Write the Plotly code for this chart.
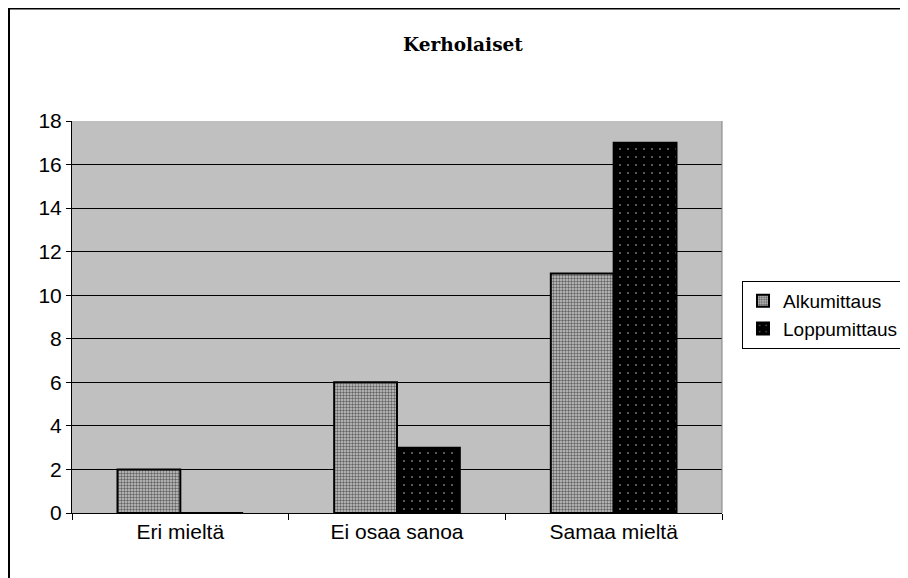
import plotly.graph_objects as go

categories = ["Eri mieltä", "Ei osaa sanoa", "Samaa mieltä"]
alku = [2, 6, 11]
loppu = [0, 3, 17]
series_names = ["Alkumittaus", "Loppumittaus"]

OFF = 8  # page body margin in the browser
W, H = 908, 578
L, R, T, B = 72 - OFF, 722 - OFF, 121 - OFF, 513 - OFF
pw, ph = R - L, B - T

def px_x(p):
    return (p - OFF - L) / pw

def px_y(p):
    return (B - (p - OFF)) / ph

fig = go.Figure()
fig.add_trace(go.Bar(
    x=categories, y=alku, name=series_names[0],
    marker=dict(color="#b0b0b0", line=dict(color="black", width=2),
                pattern=dict(shape=".", fgcolor="black", bgcolor="#c8c8c8", size=3, solidity=0.5)),
))
fig.add_trace(go.Bar(
    x=categories, y=loppu, name=series_names[1],
    marker=dict(color="black", line=dict(color="black", width=2),
                pattern=dict(shape=".", fgcolor="white", bgcolor="black", size=8, solidity=0.04)),
))

fig.update_layout(
    width=W, height=H,
    margin=dict(l=L, r=W - R, t=T, b=H - B, pad=0),
    paper_bgcolor="white", plot_bgcolor="#C0C0C0",
    barmode="group", bargap=0.42, bargroupgap=0,
    font=dict(family="Liberation Sans, Arial, sans-serif", size=21, color="black"),
    title=dict(text="<b>Kerholaiset</b>", x=(463 - OFF) / W, xanchor="center",
               y=1 - (45 - OFF) / H, yanchor="middle",
               font=dict(family="DejaVu Serif, serif", size=18.5, color="black")),
    legend=dict(x=px_x(742), y=px_y(315), xanchor="left", yanchor="middle",
                bordercolor="black", borderwidth=1, bgcolor="white",
                font=dict(size=19), tracegroupgap=2, itemwidth=30),
    showlegend=True,
    xaxis=dict(showgrid=False, showline=True, linecolor="black", linewidth=1,
               ticks="outside", tickson="boundaries", ticklen=6, tickcolor="black",
               mirror=False, tickfont=dict(size=21)),
    yaxis=dict(range=[0, 18], dtick=2, showgrid=True, gridcolor="black", gridwidth=1,
               showline=True, linecolor="black", linewidth=1, ticks="outside", ticklen=5,
               tickcolor="black", zeroline=False, tickfont=dict(size=21)),
)

# plot area right edge (gray)
fig.add_shape(type="line", xref="paper", yref="paper", x0=1, x1=1, y0=0, y1=1,
              line=dict(color="#808080", width=1))
# outer chart border
fig.add_shape(type="rect", xref="paper", yref="paper",
              x0=px_x(9), x1=px_x(930), y0=px_y(600), y1=px_y(8.5),
              line=dict(color="black", width=2), fillcolor="rgba(0,0,0,0)", layer="above")

fig.write_html("out.html")
